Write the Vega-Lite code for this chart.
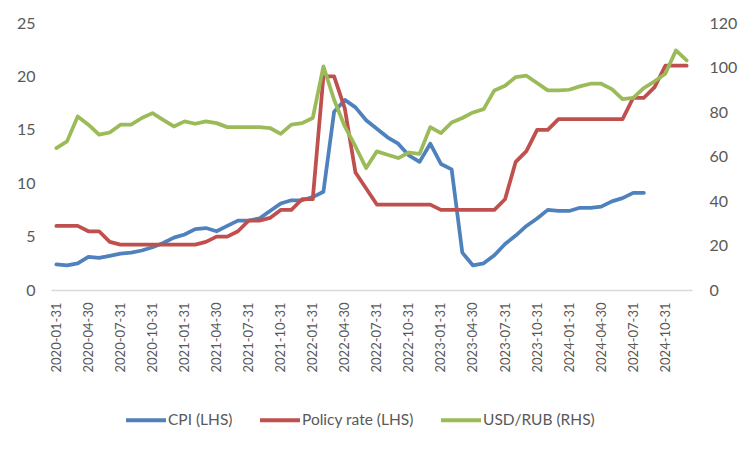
{
  "$schema": "https://vega.github.io/schema/vega-lite/v6.json",
  "width": 641,
  "height": 267,
  "autosize": {"type": "none"},
  "padding": {"left": 51, "top": 23, "right": 60, "bottom": 162},
  "background": "white",
  "config": {
    "view": {"stroke": null},
    "font": "Lato",
    "axis": {"labelFont": "Lato", "labelColor": "#595959", "grid": false, "ticks": false, "title": null},
    "legend": {"labelFont": "Lato", "labelColor": "#595959"}
  },
  "data": {
    "values": [
      {"date": "2020-01-31", "cpi": 2.4, "rate": 6.0, "usdrub": 63.8},
      {"date": "2020-02-29", "cpi": 2.3, "rate": 6.0, "usdrub": 66.8},
      {"date": "2020-03-31", "cpi": 2.5, "rate": 6.0, "usdrub": 78.0},
      {"date": "2020-04-30", "cpi": 3.1, "rate": 5.5, "usdrub": 74.3},
      {"date": "2020-05-31", "cpi": 3.0, "rate": 5.5, "usdrub": 69.8},
      {"date": "2020-06-30", "cpi": 3.2, "rate": 4.5, "usdrub": 70.8},
      {"date": "2020-07-31", "cpi": 3.4, "rate": 4.25, "usdrub": 74.3},
      {"date": "2020-08-31", "cpi": 3.5, "rate": 4.25, "usdrub": 74.3},
      {"date": "2020-09-30", "cpi": 3.7, "rate": 4.25, "usdrub": 77.3},
      {"date": "2020-10-31", "cpi": 4.0, "rate": 4.25, "usdrub": 79.5},
      {"date": "2020-11-30", "cpi": 4.4, "rate": 4.25, "usdrub": 76.5},
      {"date": "2020-12-31", "cpi": 4.9, "rate": 4.25, "usdrub": 73.5},
      {"date": "2021-01-31", "cpi": 5.2, "rate": 4.25, "usdrub": 75.8},
      {"date": "2021-02-28", "cpi": 5.7, "rate": 4.25, "usdrub": 74.7},
      {"date": "2021-03-31", "cpi": 5.8, "rate": 4.5, "usdrub": 75.8},
      {"date": "2021-04-30", "cpi": 5.5, "rate": 5.0, "usdrub": 75.0},
      {"date": "2021-05-31", "cpi": 6.0, "rate": 5.0, "usdrub": 73.2},
      {"date": "2021-06-30", "cpi": 6.5, "rate": 5.5, "usdrub": 73.2},
      {"date": "2021-07-31", "cpi": 6.5, "rate": 6.5, "usdrub": 73.2},
      {"date": "2021-08-31", "cpi": 6.7, "rate": 6.5, "usdrub": 73.2},
      {"date": "2021-09-30", "cpi": 7.4, "rate": 6.75, "usdrub": 72.8},
      {"date": "2021-10-31", "cpi": 8.1, "rate": 7.5, "usdrub": 70.2},
      {"date": "2021-11-30", "cpi": 8.4, "rate": 7.5, "usdrub": 74.3},
      {"date": "2021-12-31", "cpi": 8.4, "rate": 8.5, "usdrub": 75.0},
      {"date": "2022-01-31", "cpi": 8.7, "rate": 8.5, "usdrub": 77.3},
      {"date": "2022-02-28", "cpi": 9.2, "rate": 20.0, "usdrub": 100.5},
      {"date": "2022-03-31", "cpi": 16.7, "rate": 20.0, "usdrub": 85.5},
      {"date": "2022-04-30", "cpi": 17.8, "rate": 17.0, "usdrub": 73.5},
      {"date": "2022-05-31", "cpi": 17.1, "rate": 11.0, "usdrub": 64.5},
      {"date": "2022-06-30", "cpi": 15.9, "rate": 9.5, "usdrub": 54.8},
      {"date": "2022-07-31", "cpi": 15.1, "rate": 8.0, "usdrub": 62.3},
      {"date": "2022-08-31", "cpi": 14.3, "rate": 8.0, "usdrub": 60.8},
      {"date": "2022-09-30", "cpi": 13.7, "rate": 8.0, "usdrub": 59.3},
      {"date": "2022-10-31", "cpi": 12.6, "rate": 8.0, "usdrub": 61.8},
      {"date": "2022-11-30", "cpi": 12.0, "rate": 8.0, "usdrub": 61.2},
      {"date": "2022-12-31", "cpi": 13.7, "rate": 8.0, "usdrub": 73.2},
      {"date": "2023-01-31", "cpi": 11.8, "rate": 7.5, "usdrub": 70.5},
      {"date": "2023-02-28", "cpi": 11.3, "rate": 7.5, "usdrub": 75.3},
      {"date": "2023-03-31", "cpi": 3.5, "rate": 7.5, "usdrub": 77.3},
      {"date": "2023-04-30", "cpi": 2.3, "rate": 7.5, "usdrub": 79.8},
      {"date": "2023-05-31", "cpi": 2.5, "rate": 7.5, "usdrub": 81.3},
      {"date": "2023-06-30", "cpi": 3.25, "rate": 7.5, "usdrub": 89.7},
      {"date": "2023-07-31", "cpi": 4.3, "rate": 8.5, "usdrub": 91.8},
      {"date": "2023-08-31", "cpi": 5.1, "rate": 12.0, "usdrub": 95.7},
      {"date": "2023-09-30", "cpi": 6.0, "rate": 13.0, "usdrub": 96.3},
      {"date": "2023-10-31", "cpi": 6.7, "rate": 15.0, "usdrub": 93.0},
      {"date": "2023-11-30", "cpi": 7.5, "rate": 15.0, "usdrub": 89.7},
      {"date": "2023-12-31", "cpi": 7.4, "rate": 16.0, "usdrub": 89.7},
      {"date": "2024-01-31", "cpi": 7.4, "rate": 16.0, "usdrub": 90.0},
      {"date": "2024-02-29", "cpi": 7.7, "rate": 16.0, "usdrub": 91.5},
      {"date": "2024-03-31", "cpi": 7.7, "rate": 16.0, "usdrub": 92.7},
      {"date": "2024-04-30", "cpi": 7.8, "rate": 16.0, "usdrub": 92.7},
      {"date": "2024-05-31", "cpi": 8.3, "rate": 16.0, "usdrub": 90.3},
      {"date": "2024-06-30", "cpi": 8.6, "rate": 16.0, "usdrub": 85.8},
      {"date": "2024-07-31", "cpi": 9.1, "rate": 18.0, "usdrub": 86.3},
      {"date": "2024-08-31", "cpi": 9.1, "rate": 18.0, "usdrub": 90.8},
      {"date": "2024-09-30", "cpi": null, "rate": 19.0, "usdrub": 93.8},
      {"date": "2024-10-31", "cpi": null, "rate": 21.0, "usdrub": 97.2},
      {"date": "2024-11-30", "cpi": null, "rate": 21.0, "usdrub": 107.7},
      {"date": "2024-12-31", "cpi": null, "rate": 21.0, "usdrub": 103.2}
    ]
  },
  "transform": [
    {"fold": ["cpi", "rate", "usdrub"], "as": ["series", "value"]}
  ],
  "encoding": {
    "x": {
      "field": "date",
      "type": "ordinal",
      "scale": {"type": "point", "padding": 0.5},
      "axis": {
        "values": ["2020-01-31", "2020-04-30", "2020-07-31", "2020-10-31", "2021-01-31", "2021-04-30", "2021-07-31", "2021-10-31", "2022-01-31", "2022-04-30", "2022-07-31", "2022-10-31", "2023-01-31", "2023-04-30", "2023-07-31", "2023-10-31", "2024-01-31", "2024-04-30", "2024-07-31", "2024-10-31"],
        "labelAngle": -90,
        "labelFontSize": 13,
        "labelPadding": 12,
        "domainColor": "#d9d9d9",
        "domainWidth": 1.5,
        "labelOverlap": false
      }
    },
    "color": {
      "field": "series",
      "type": "nominal",
      "scale": {"domain": ["cpi", "rate", "usdrub"], "range": ["#4F81BD", "#C0504D", "#9BBB59"]},
      "legend": {
        "title": null,
        "orient": "none",
        "direction": "horizontal",
        "legendX": 73,
        "legendY": 375,
        "symbolType": "stroke",
        "symbolSize": 1600,
        "symbolStrokeWidth": 4,
        "labelFontSize": 15.5,
        "labelOffset": 0,
        "columnPadding": 19,
        "labelExpr": "datum.label == 'cpi' ? 'CPI (LHS)' : datum.label == 'rate' ? 'Policy rate (LHS)' : 'USD/RUB (RHS)'"
      }
    }
  },
  "layer": [
    {
      "transform": [{"filter": "datum.series != 'usdrub'"}],
      "mark": {"type": "line", "strokeWidth": 3.75, "strokeCap": "round", "strokeJoin": "round"},
      "encoding": {
        "y": {
          "field": "value",
          "type": "quantitative",
          "scale": {"domain": [0, 25], "nice": false, "zero": true},
          "axis": {"orient": "left", "values": [0, 5, 10, 15, 20, 25], "domain": false, "labelFontSize": 16, "labelPadding": 16}
        }
      }
    },
    {
      "transform": [{"filter": "datum.series == 'usdrub'"}],
      "mark": {"type": "line", "strokeWidth": 3.75, "strokeCap": "round", "strokeJoin": "round"},
      "encoding": {
        "y": {
          "field": "value",
          "type": "quantitative",
          "scale": {"domain": [0, 120], "nice": false, "zero": true},
          "axis": {"orient": "right", "values": [0, 20, 40, 60, 80, 100, 120], "domain": false, "labelFontSize": 16, "labelPadding": 17}
        }
      }
    }
  ],
  "resolve": {"scale": {"y": "independent"}}
}
